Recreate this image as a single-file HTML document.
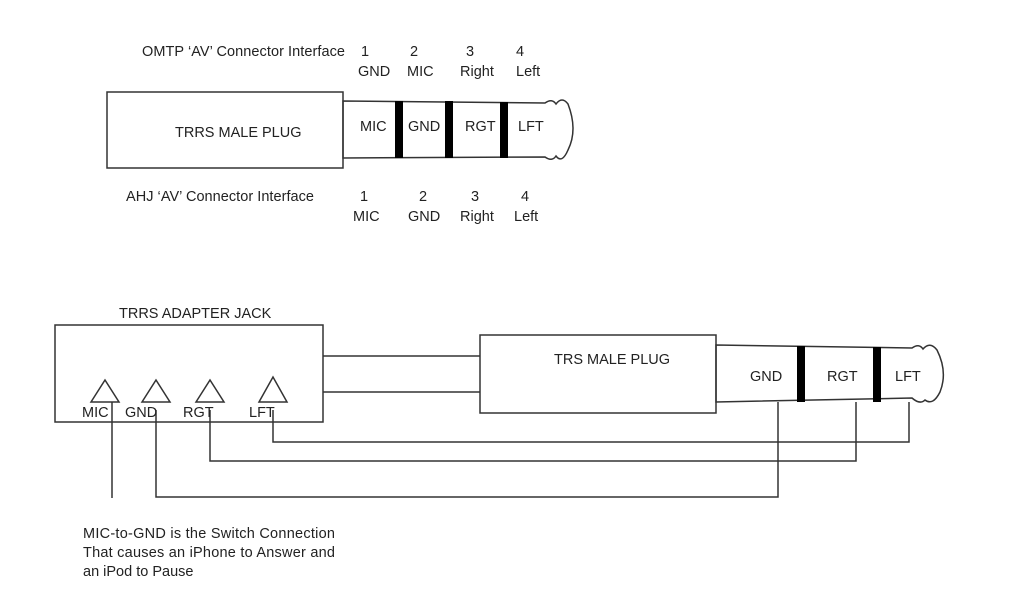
<!DOCTYPE html>
<html><head><style>
body{margin:0;background:#fff;}
svg{display:block;font-family:"Liberation Sans",sans-serif;}
text{font-size:14.5px;fill:#222;}
</style></head><body>
<svg width="1024" height="600" viewBox="0 0 1024 600">
<g stroke="#333" stroke-width="1.5" fill="none">
<rect x="107" y="92" width="236" height="76"/>
<path d="M343 101 L545 103 Q552 98 556 104 Q562 96 568 104 Q578 130 568 150 Q562 164 556 156 Q552 162 545 157 L343 158 Z"/>
<rect x="55" y="325" width="268" height="97"/>
<line x1="323" y1="356" x2="480" y2="356"/>
<line x1="323" y1="392" x2="480" y2="392"/>
<rect x="480" y="335" width="236" height="78"/>
<path d="M716 345 L912 348 Q919 343 923 349 Q930 341 937 350 Q948 372 940 392 Q933 406 925 400 Q920 405 912 398 L716 402 Z"/>
<path d="M91 402 L105 380 L119 402 Z"/>
<path d="M142 402 L156 380 L170 402 Z"/>
<path d="M196 402 L210 380 L224 402 Z"/>
<path d="M259 402 L273 377 L287 402 Z"/>
<line x1="112" y1="402" x2="112" y2="498"/>
<polyline points="156,410 156,497 778,497 778,402"/>
<polyline points="210,410 210,461 856,461 856,402"/>
<polyline points="273,410 273,442 909,442 909,402"/>
</g>
<g fill="#000">
<rect x="395" y="101" width="8" height="57"/>
<rect x="445" y="101" width="8" height="57"/>
<rect x="500" y="102" width="8" height="56"/>
<rect x="797" y="346" width="8" height="56"/>
<rect x="873" y="347" width="8" height="55"/>
</g>
<text x="142" y="56" textLength="203">OMTP ‘AV’ Connector Interface</text>
<text x="361" y="56">1</text><text x="410" y="56">2</text><text x="466" y="56">3</text><text x="516" y="56">4</text>
<text x="358" y="76">GND</text><text x="407" y="76">MIC</text><text x="460" y="76">Right</text><text x="516" y="76">Left</text>
<text x="175" y="137">TRRS MALE PLUG</text>
<text x="360" y="131">MIC</text><text x="408" y="131">GND</text><text x="465" y="131">RGT</text><text x="518" y="131">LFT</text>
<text x="126" y="201" textLength="188">AHJ ‘AV’ Connector Interface</text>
<text x="360" y="201">1</text><text x="419" y="201">2</text><text x="471" y="201">3</text><text x="521" y="201">4</text>
<text x="353" y="221">MIC</text><text x="408" y="221">GND</text><text x="460" y="221">Right</text><text x="514" y="221">Left</text>
<text x="119" y="318">TRRS ADAPTER JACK</text>
<text x="554" y="364">TRS MALE PLUG</text>
<text x="82" y="417">MIC</text><text x="125" y="417">GND</text><text x="183" y="417">RGT</text><text x="249" y="417">LFT</text>
<text x="750" y="381">GND</text><text x="827" y="381">RGT</text><text x="895" y="381">LFT</text>
<text x="83" y="538" textLength="252">MIC-to-GND is the Switch Connection</text>
<text x="83" y="557" textLength="252">That causes an iPhone to Answer and</text>
<text x="83" y="576">an iPod to Pause</text>
</svg>
</body></html>
